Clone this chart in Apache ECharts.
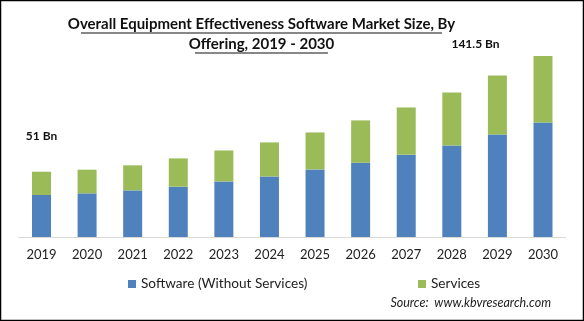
<!DOCTYPE html>
<html><head><meta charset="utf-8">
<script src="https://cdn.jsdelivr.net/npm/echarts@6/dist/echarts.min.js"></script>
<style>html,body{margin:0;padding:0;background:#fff}#c{width:584px;height:321px}</style>
</head><body><div id="c"></div>
<script>
const years = ['2019','2020','2021','2022','2023','2024','2025','2026','2027','2028','2029','2030'];
const software = [32.8, 34.1, 36.4, 39.3, 43.4, 47.3, 52.8, 58.0, 64.3, 71.5, 80.1, 89.5];
const services = [18.2, 18.5, 19.6, 22.1, 24.2, 26.6, 28.9, 33.1, 36.9, 41.4, 46.1, 52.0];
const seriesNames = ['Software (Without Services)', 'Services'];
const titleLines = ['Overall Equipment Effectiveness Software Market Size, By', 'Offering, 2019 - 2030'];
const startLabel = '51 Bn';
const endLabel = '141.5 Bn';
const sourceText = 'Source:  www.kbvresearch.com';

const FONT = 'Lato';
const chart = echarts.init(document.getElementById('c'), null, {renderer: 'canvas'});
const option = {
  animation: false,
  backgroundColor: '#fff',
  grid: {left: 18.7, right: 18.2, top: 45, bottom: 84, containLabel: false},
  xAxis: {
    type: 'category', data: years,
    axisLine: {lineStyle: {color: '#d9d9d9', width: 1}},
    axisTick: {show: false},
    axisLabel: {color: '#222', fontFamily: FONT, fontSize: 13, margin: 11}
  },
  yAxis: {type: 'value', min: 0, max: 150, show: false, splitLine: {show: false}},
  legend: [
    {data: [seriesNames[0]], left: 123, top: 272, itemWidth: 8, itemHeight: 8, icon: 'rect',
     textStyle: {fontFamily: FONT, fontSize: 13.6, color: '#222'}},
    {data: [seriesNames[1]], left: 413, top: 272, itemWidth: 8, itemHeight: 8, icon: 'rect',
     textStyle: {fontFamily: FONT, fontSize: 13.6, color: '#222'}}
  ],
  series: [
    {name: seriesNames[0], type: 'bar', stack: 't', data: software, barWidth: 19,
     itemStyle: {color: '#4f81bd'}},
    {name: seriesNames[1], type: 'bar', stack: 't', data: services, barWidth: 19,
     itemStyle: {color: '#9bbb59'}}
  ],
  graphic: [
    {type: 'rect', shape: {x: 0.5, y: 0.5, width: 583, height: 320}, style: {fill: 'none', stroke: '#000', lineWidth: 1.5}, z: 100},
    {type: 'text', x: 261.5, y: 24, style: {text: titleLines[0], font: 'bold 15px ' + FONT, fill: '#111', align: 'center', verticalAlign: 'middle'}},
    {type: 'text', x: 261.5, y: 44, style: {text: titleLines[1], font: 'bold 15px ' + FONT, fill: '#111', align: 'center', verticalAlign: 'middle'}},
    {type: 'line', shape: {x1: 81, y1: 33, x2: 442, y2: 33}, style: {stroke: '#111', lineWidth: 1}},
    {type: 'line', shape: {x1: 195, y1: 53, x2: 328, y2: 53}, style: {stroke: '#111', lineWidth: 1}},
    {type: 'text', x: 41.5, y: 136, style: {text: startLabel, font: 'bold 12px ' + FONT, fill: '#111', align: 'center', verticalAlign: 'middle'}},
    {type: 'text', x: 475.5, y: 44, style: {text: endLabel, font: 'bold 12px ' + FONT, fill: '#111', align: 'center', verticalAlign: 'middle'}},
    {type: 'text', x: 551, y: 303, style: {text: sourceText, font: 'italic 12.5px ' + FONT, fill: '#222', align: 'right', verticalAlign: 'middle'}}
  ]
};
chart.setOption(option);
</script></body></html>
